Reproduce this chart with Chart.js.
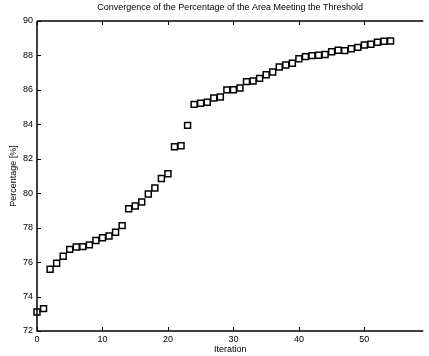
<!DOCTYPE html>
<html lang="en">
<head>
    <meta charset="UTF-8">
    <title>Convergence of the Percentage of the Area Meeting the Threshold</title>
    <script src="https://cdn.jsdelivr.net/npm/chart.js"></script>
    <style>
        html, body { margin: 0; padding: 0; background: #fff; overflow: hidden; }
        canvas { display: block; }
    </style>
</head>
<body>
    <canvas id="grafico" width="429" height="356"></canvas>
    <script>
    // values
    const iterations = [
        0, 1, 2, 3, 4, 5, 6, 7, 8, 9,
        10, 11, 12, 13, 14, 15, 16, 17, 18, 19,
        20, 21, 22, 23, 24, 25, 26, 27, 28, 29,
        30, 31, 32, 33, 34, 35, 36, 37, 38, 39,
        40, 41, 42, 43, 44, 45, 46, 47, 48, 49,
        50, 51, 52, 53, 54
    ];
    const percentage = [
        73.1, 73.3, 75.58, 75.93, 76.34, 76.74, 76.88, 76.9, 77.0, 77.26,
        77.42, 77.52, 77.73, 78.12, 79.1, 79.26, 79.49, 79.96, 80.3, 80.85,
        81.13, 82.7, 82.76, 83.94, 85.16, 85.22, 85.28, 85.53, 85.59, 86.0,
        86.01, 86.11, 86.48, 86.52, 86.67, 86.88, 87.04, 87.33, 87.45, 87.55,
        87.81, 87.93, 87.99, 88.01, 88.05, 88.22, 88.3, 88.28, 88.39, 88.47,
        88.61, 88.65, 88.77, 88.82, 88.84
    ];
    const xTicks = [0, 10, 20, 30, 40, 50];
    const yTicks = [72, 74, 76, 78, 80, 82, 84, 86, 88, 90];

    const fuente = "'Liberation Sans', Arial, sans-serif";

    // marco tipo matlab con marcas hacia dentro
    const marco = {
        id: 'marco',
        afterDraw(chart) {
            const ctx = chart.ctx;
            const a = chart.chartArea;
            const sx = chart.scales.x;
            const sy = chart.scales.y;
            ctx.save();
            ctx.strokeStyle = '#000';
            ctx.lineWidth = 1.5;
            ctx.beginPath();
            ctx.moveTo(a.left, a.top);
            ctx.lineTo(a.right, a.top);
            ctx.moveTo(a.left, a.top);
            ctx.lineTo(a.left, a.bottom);
            ctx.lineTo(a.right, a.bottom);
            ctx.stroke();
            ctx.lineWidth = 1;
            ctx.beginPath();
            xTicks.forEach(v => {
                const px = Math.round(sx.getPixelForValue(v)) + 0.5;
                ctx.moveTo(px, a.bottom);
                ctx.lineTo(px, a.bottom - 4);
                ctx.moveTo(px, a.top);
                ctx.lineTo(px, a.top + 4);
            });
            yTicks.forEach(v => {
                const py = Math.round(sy.getPixelForValue(v)) + 0.5;
                ctx.moveTo(a.left, py);
                ctx.lineTo(a.left + 4, py);
            });
            ctx.stroke();
            ctx.restore();
        }
    };

    const ctx = document.getElementById('grafico').getContext('2d');
    const chart = new Chart(ctx, {
        type: 'scatter',
        data: {
            datasets: [
                {
                    label: 'Percentage',
                    data: iterations.map((x, i) => ({ x: x, y: percentage[i] })),
                    pointStyle: 'rect',
                    pointRadius: 4.2,
                    borderColor: '#000',
                    backgroundColor: '#fff',
                    borderWidth: 1.5,
                    clip: false
                }
            ]
        },
        options: {
            responsive: false,
            animation: false,
            devicePixelRatio: 1,
            layout: { padding: 0 },
            plugins: {
                legend: { display: false },
                tooltip: { enabled: false }
            },
            scales: {
                x: {
                    type: 'linear',
                    min: 0,
                    max: 59,
                    afterFit: s => { s.height = 25; },
                    afterBuildTicks: s => { s.ticks = xTicks.map(v => ({ value: v })); },
                    grid: { display: false, drawTicks: false },
                    border: { display: false },
                    ticks: {
                        color: '#000',
                        padding: 3,
                        maxRotation: 0,
                        font: { family: fuente, size: 9 }
                    },
                    title: {
                        display: true,
                        text: 'Iteration',
                        color: '#000',
                        font: { family: fuente, size: 9 },
                        padding: { top: 0, bottom: 1 }
                    }
                },
                // eje superior solo para el titulo, centrado sobre el area
                x2: {
                    type: 'linear',
                    position: 'top',
                    min: 0,
                    max: 59,
                    afterFit: s => { s.height = 21; },
                    grid: { display: false, drawTicks: false },
                    border: { display: false },
                    ticks: { display: false },
                    title: {
                        display: true,
                        text: 'Convergence of the Percentage of the Area Meeting the Threshold',
                        color: '#000',
                        font: { family: fuente, size: 9 },
                        padding: { top: 2, bottom: 0 }
                    }
                },
                y: {
                    type: 'linear',
                    min: 72,
                    max: 90,
                    afterFit: s => { s.width = 37; },
                    afterBuildTicks: s => { s.ticks = yTicks.map(v => ({ value: v })); },
                    grid: { display: false, drawTicks: false },
                    border: { display: false },
                    ticks: {
                        color: '#000',
                        padding: 4,
                        font: { family: fuente, size: 9 }
                    },
                    title: {
                        display: true,
                        text: 'Percentage [%]',
                        color: '#000',
                        font: { family: fuente, size: 9 },
                        padding: { top: 8, bottom: 0 }
                    }
                }
            }
        },
        plugins: [marco]
    });
    </script>
</body>
</html>
